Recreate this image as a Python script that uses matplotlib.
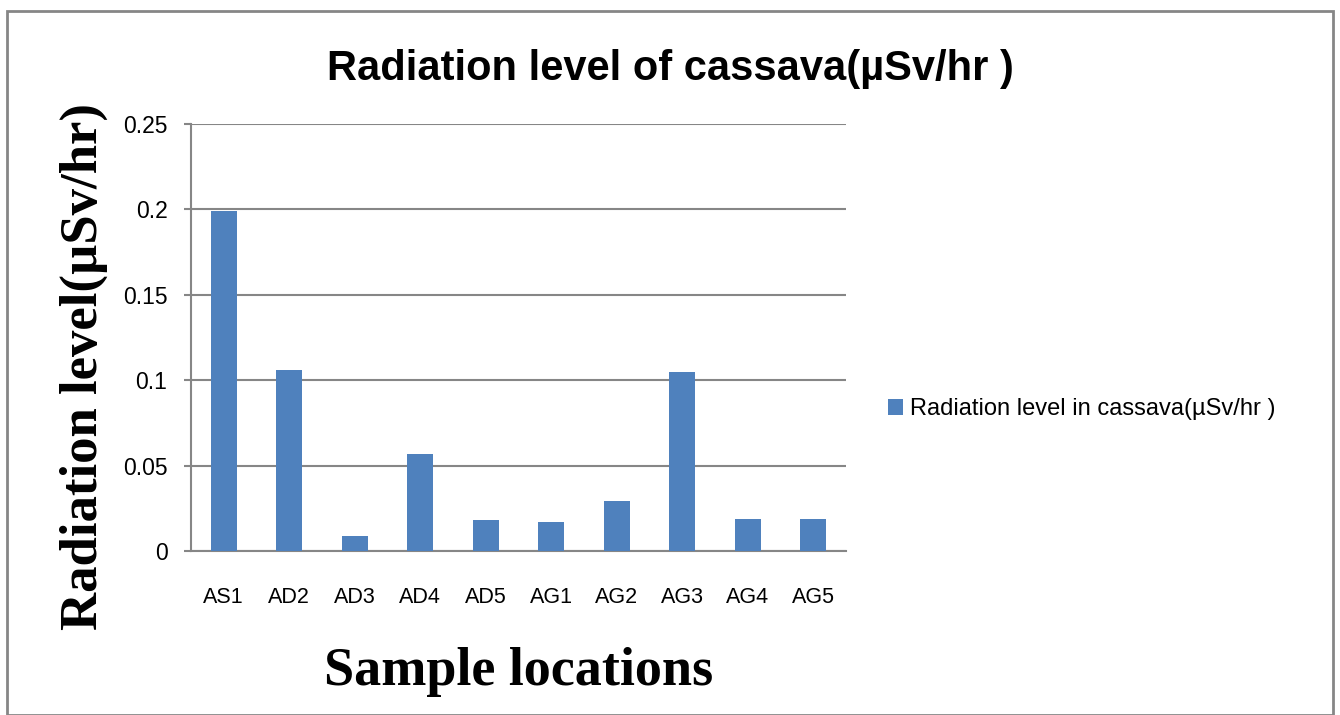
import matplotlib.pyplot as plt
from matplotlib.patches import Rectangle

# データ
locations = ["AS1", "AD2", "AD3", "AD4", "AD5", "AG1", "AG2", "AG3", "AG4", "AG5"]
radiation = [0.199, 0.106, 0.009, 0.057, 0.018, 0.017, 0.029, 0.105, 0.019, 0.019]
yticks = [0, 0.05, 0.1, 0.15, 0.2, 0.25]
ytick_labels = ["0", "0.05", "0.1", "0.15", "0.2", "0.25"]

sans = ["Liberation Sans", "DejaVu Sans"]
serif = ["Liberation Serif", "DejaVu Serif"]
grid_c = "#868686"
bar_c = "#4F81BD"

fig = plt.figure(figsize=(13.4, 7.15), dpi=100)
ax = fig.add_axes([191 / 1340, 1 - 551 / 715, (846 - 191) / 1340, (551 - 124) / 715])

x = range(len(locations))
ax.bar(x, radiation, width=0.4, color=bar_c, zorder=3,
       label="Radiation level in cassava(µSv/hr )")

ax.set_xlim(-0.5, len(locations) - 0.5)
ax.set_ylim(0, 0.25)
ax.set_yticks(yticks)
ax.set_yticklabels(ytick_labels, family=sans, fontsize=16.5)
ax.set_xticks(list(x))
ax.set_xticklabels(locations, family=sans, fontsize=15.5)
ax.tick_params(axis="x", length=0, pad=26)
ax.tick_params(axis="y", length=5, width=1.5, color=grid_c, pad=12)
ax.grid(axis="y", color=grid_c, linewidth=1.5, zorder=0)

for side in ["top", "right"]:
    ax.spines[side].set_visible(False)
for side in ["left", "bottom"]:
    ax.spines[side].set_color(grid_c)
    ax.spines[side].set_linewidth(1.5)

ax.set_ylabel("Radiation level(µSv/hr)", family=serif, fontweight="bold", fontsize=38)
ax.yaxis.set_label_coords(-0.127, 0.431)
ax.set_xlabel("Sample locations", family=serif, fontweight="bold", fontsize=39)
ax.xaxis.set_label_coords(0.5, -0.225)

fig.text(0.5, 1 - 80 / 715, "Radiation level of cassava(µSv/hr )", family=sans,
         fontweight="bold", fontsize=30, ha="center", va="baseline")

fig.legend(loc="center left", bbox_to_anchor=(876 / 1340, 1 - 409 / 715),
           frameon=False, prop={"family": sans, "size": 17}, borderpad=0,
           handlelength=0.64, handleheight=0.64, handletextpad=0.3)

# 外枠
fig.patches.append(Rectangle((7 / 1340, 0), 1326 / 1340, 1 - 11 / 715,
                             transform=fig.transFigure, fill=False,
                             edgecolor=grid_c, linewidth=2))

fig.savefig("out.png", dpi=100)
